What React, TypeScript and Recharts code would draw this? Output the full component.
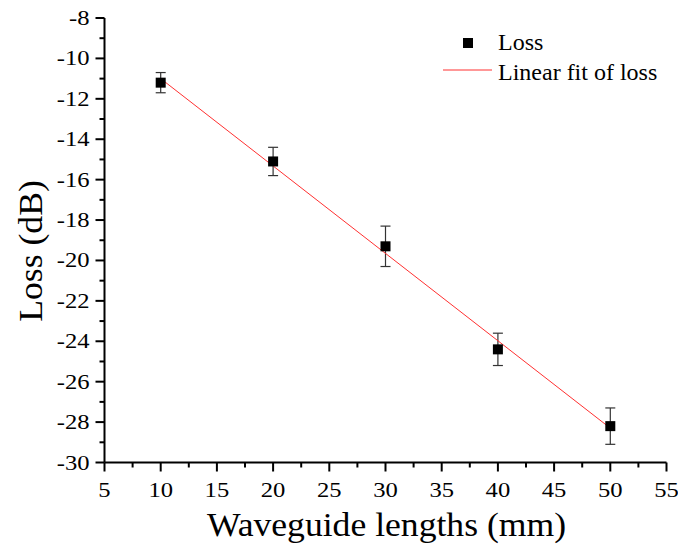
import React from 'react';
import { ScatterChart, Scatter, XAxis, YAxis, ErrorBar, Label } from 'recharts';

if (typeof document !== 'undefined') {
  document.body.style.margin = '0';
}

const lengths = [10, 20, 30, 40, 50];
const losses = [-11.2, -15.1, -19.3, -24.4, -28.2];
const errors = [0.5, 0.7, 1.0, 0.8, 0.9];
const fitX = [10, 50];
const fitY = [-11.0, -28.3];
const xMajorTicks = [5, 10, 15, 20, 25, 30, 35, 40, 45, 50, 55];
const xMinorTicks = [7.5, 12.5, 17.5, 22.5, 27.5, 32.5, 37.5, 42.5, 47.5, 52.5];
const yMajorTicks = [-30, -28, -26, -24, -22, -20, -18, -16, -14, -12, -10, -8];
const yMinorTicks = [-29, -27, -25, -23, -21, -19, -17, -15, -13, -11, -9];

const FONT = '"Liberation Serif", "Times New Roman", serif';
const TICK_STYLE = { fontFamily: FONT, fontSize: 20.5, fill: '#000' };
const TITLE_STYLE = { fontFamily: FONT, fontSize: 33, fill: '#000' };
const LEGEND_STYLE = { fontFamily: FONT, fontSize: 24, fill: '#000' };

const lossData = lengths.map((x, i) => ({ x, y: losses[i], err: errors[i] }));
const fitData = fitX.map((x, i) => ({ x, y: fitY[i] }));

const renderXTick = (props: any) => {
  const { x, y, payload } = props;
  const v = payload.value;
  const major = xMajorTicks.includes(v);
  return (
    <g key={`xt-${v}`}>
      <line x1={x} y1={y} x2={x} y2={y + (major ? 9 : 5)} stroke="#000" strokeWidth={2} />
      {major && (
        <text
          transform={`translate(${x},${y + 34.5}) scale(1.2,1)`}
          x={0}
          y={0}
          textAnchor="middle"
          style={TICK_STYLE}
        >
          {String(v)}
        </text>
      )}
    </g>
  );
};

const renderYTick = (props: any) => {
  const { x, y, payload } = props;
  const v = payload.value;
  const major = yMajorTicks.includes(v);
  return (
    <g key={`yt-${v}`}>
      <line x1={x} y1={y} x2={x - (major ? 9 : 5)} y2={y} stroke="#000" strokeWidth={2} />
      {major && (
        <text
          transform={`translate(${x - 15},${y + 7}) scale(1.2,1)`}
          x={0}
          y={0}
          textAnchor="end"
          style={TICK_STYLE}
        >
          {String(v)}
        </text>
      )}
    </g>
  );
};

const SquareShape = (props: any) => {
  const { cx, cy } = props;
  if (cx == null || cy == null) return <g />;
  return <rect x={cx - 5} y={cy - 5} width={10} height={10} fill="#000" />;
};

const NoShape = () => <g />;

export default function App() {
  return (
    <div style={{ position: 'relative', width: 678, height: 545, overflow: 'hidden' }}>
      <ScatterChart
        width={678}
        height={545}
        margin={{ top: 18, right: 11.5, bottom: 0, left: 44 }}
      >
        <XAxis
          type="number"
          dataKey="x"
          domain={[5, 55]}
          ticks={[...xMajorTicks, ...xMinorTicks].sort((a, b) => a - b)}
          interval={0}
          tick={renderXTick}
          tickLine={false}
          tickSize={0}
          tickMargin={0}
          axisLine={{ stroke: '#000', strokeWidth: 2 }}
          height={82.5}
          allowDataOverflow
        >
          <Label
            content={() => (
              <text
                transform="translate(386.5,536) scale(1.08,1)"
                x={0}
                y={0}
                textAnchor="middle"
                style={TITLE_STYLE}
              >
                Waveguide lengths (mm)
              </text>
            )}
          />
        </XAxis>
        <YAxis
          type="number"
          dataKey="y"
          domain={[-30, -8]}
          ticks={[...yMajorTicks, ...yMinorTicks].sort((a, b) => a - b)}
          interval={0}
          tick={renderYTick}
          tickLine={false}
          tickSize={0}
          tickMargin={0}
          axisLine={{ stroke: '#000', strokeWidth: 2 }}
          width={60.5}
          allowDataOverflow
        >
          <Label
            content={() => (
              <text
                transform="translate(42,251) rotate(-90) scale(1.08,1)"
                x={0}
                y={0}
                textAnchor="middle"
                style={TITLE_STYLE}
              >
                Loss (dB)
              </text>
            )}
          />
        </YAxis>
        <Scatter
          name="Linear fit of loss"
          data={fitData}
          line={{ stroke: '#ff3030', strokeWidth: 1 }}
          shape={<NoShape />}
          isAnimationActive={false}
        />
        <Scatter name="Loss" data={lossData} shape={<SquareShape />} isAnimationActive={false}>
          <ErrorBar dataKey="err" direction="y" width={5} stroke="#333" strokeWidth={1.2} isAnimationActive={false} />
        </Scatter>
      </ScatterChart>
      <svg
        width={250}
        height={70}
        style={{ position: 'absolute', left: 430, top: 25, overflow: 'visible' }}
      >
        <rect x={33} y={13} width={10} height={10} fill="#000" />
        <text x={68} y={25} style={LEGEND_STYLE}>Loss</text>
        <line x1={13} y1={45} x2={62} y2={45} stroke="#ff3030" strokeWidth={1} />
        <text x={68} y={55} style={LEGEND_STYLE}>Linear fit of loss</text>
      </svg>
    </div>
  );
}
